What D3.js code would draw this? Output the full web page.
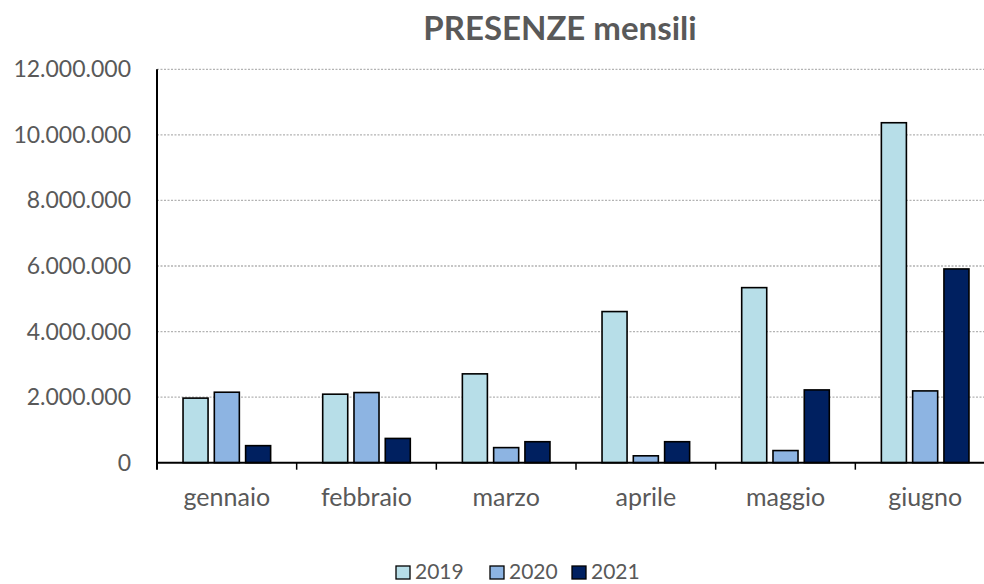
<!DOCTYPE html>
<html lang="it">
  <head>
    <meta charset="utf-8">
    <title>PRESENZE mensili</title>
    <script src="https://cdnjs.cloudflare.com/ajax/libs/d3/7.8.5/d3.min.js"></script>
    <style type="text/css">
    body { margin: 0; background: #fff; }
    svg { display: block; font-family: Lato, "Open Sans", sans-serif; }
    </style>
  </head>
  <body>
    <script type="text/javascript">
    // data
    var months = ["gennaio", "febbraio", "marzo", "aprile", "maggio", "giugno"];
    var years = ["2019", "2020", "2021"];
    var v2019 = [1970000, 2090000, 2710000, 4610000, 5340000, 10370000];
    var v2020 = [2150000, 2140000, 460000, 210000, 370000, 2190000];
    var v2021 = [520000, 740000, 640000, 640000, 2220000, 5910000];
    var yTicks = [0, 2000000, 4000000, 6000000, 8000000, 10000000, 12000000];
    var colors = ["#b7dee8", "#8db4e2", "#002060"];

    var series = [v2019, v2020, v2021];

    var w = 984, h = 584;
    var pLeft = 157, pRight = 995, pTop = 69.3, pBottom = 462.7;

    var svg = d3.select("body").append("svg")
      .attr("width", w)
      .attr("height", h);

    var y = d3.scaleLinear().domain([0, 12000000]).range([pBottom, pTop]);
    var x0 = d3.scaleBand().domain(months).range([pLeft, pRight]).padding(0);
    var groupW = 87.6;
    var x1 = d3.scaleBand().domain(years).range([0, groupW]).paddingInner(0.2).paddingOuter(0);

    // gridlines
    svg.append("g").selectAll("line")
      .data(yTicks.filter(function(d) { return d > 0; }))
      .enter().append("line")
      .attr("x1", pLeft).attr("x2", pRight)
      .attr("y1", function(d) { return y(d); })
      .attr("y2", function(d) { return y(d); })
      .attr("stroke", "#b3b3b3")
      .attr("stroke-width", 1.3)
      .attr("stroke-dasharray", "2,1.5");

    // y labels
    var fmt = function(d) { return d3.format(",")(d).replace(/,/g, "."); };
    svg.append("g").selectAll("text")
      .data(yTicks)
      .enter().append("text")
      .attr("x", 131)
      .attr("y", function(d) { return y(d) + 8; })
      .attr("text-anchor", "end")
      .attr("font-size", "23px")
      .attr("fill", "#595959")
      .text(fmt);

    // bars
    var groups = svg.append("g").selectAll("g")
      .data(months)
      .enter().append("g")
      .attr("transform", function(d) {
        return "translate(" + (x0(d) + (x0.bandwidth() - groupW) / 2) + ",0)";
      });

    groups.selectAll("rect")
      .data(function(d, i) {
        return years.map(function(yr, j) { return { year: yr, value: series[j][i], c: colors[j] }; });
      })
      .enter().append("rect")
      .attr("x", function(d) { return x1(d.year); })
      .attr("y", function(d) { return y(d.value); })
      .attr("width", x1.bandwidth())
      .attr("height", function(d) { return pBottom - y(d.value); })
      .attr("fill", function(d) { return d.c; })
      .attr("stroke", "#000")
      .attr("stroke-width", 1.6);

    // axes
    svg.append("line")
      .attr("x1", pLeft).attr("x2", pLeft)
      .attr("y1", pTop).attr("y2", pBottom + 7)
      .attr("stroke", "#000").attr("stroke-width", 2);

    svg.append("line")
      .attr("x1", pLeft).attr("x2", pRight)
      .attr("y1", pBottom).attr("y2", pBottom)
      .attr("stroke", "#000").attr("stroke-width", 2);

    svg.append("g").selectAll("line")
      .data(months.slice(1))
      .enter().append("line")
      .attr("x1", function(d) { return x0(d); })
      .attr("x2", function(d) { return x0(d); })
      .attr("y1", pBottom).attr("y2", pBottom + 7)
      .attr("stroke", "#000").attr("stroke-width", 1.5);

    // x labels
    svg.append("g").selectAll("text")
      .data(months)
      .enter().append("text")
      .attr("x", function(d) { return x0(d) + x0.bandwidth() / 2; })
      .attr("y", 506)
      .attr("text-anchor", "middle")
      .attr("font-size", "25px")
      .attr("fill", "#595959")
      .text(function(d) { return d; });

    // title
    svg.append("text")
      .attr("x", 560)
      .attr("y", 40)
      .attr("text-anchor", "middle")
      .attr("font-size", "33px")
      .attr("font-weight", "bold")
      .attr("fill", "#595959")
      .text("PRESENZE mensili");

    // legend
    var legX = [396, 490, 572];
    var leg = svg.append("g").selectAll("g")
      .data(years)
      .enter().append("g")
      .attr("transform", function(d, i) { return "translate(" + legX[i] + ",566)"; });
    leg.append("rect")
      .attr("width", 14).attr("height", 13)
      .attr("fill", function(d, i) { return colors[i]; })
      .attr("stroke", "#000").attr("stroke-width", 1.3);
    leg.append("text")
      .attr("x", 19).attr("y", 13)
      .attr("font-size", "21px")
      .attr("fill", "#595959")
      .text(function(d) { return d; });
    </script>
  </body>
</html>
